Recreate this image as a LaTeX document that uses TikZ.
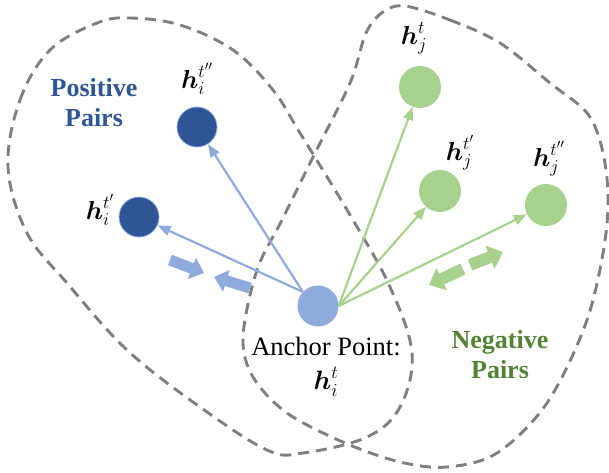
\RequirePackage{fix-cm}
\documentclass[tikz,border=0pt]{standalone}
\usepackage{amsmath,amssymb}
\usepackage{fontspec}
\setmainfont{Liberation Serif}
\usepackage{tikz}
\usepackage{xcolor}
\usetikzlibrary{arrows.meta,positioning,calc}
\definecolor{cP}{HTML}{2F5597}
\definecolor{cB}{HTML}{8FAADC}
\definecolor{cN}{HTML}{A9D18E}
\definecolor{cG}{HTML}{548235}
\definecolor{cL}{HTML}{7F7F7F}
\tikzset{
  anchordot/.style={circle,fill=cB,minimum size=41pt,inner sep=0pt},
  posdot/.style={circle,fill=cP,draw=cB,line width=0.8pt,minimum size=40pt,inner sep=0pt},
  negdot/.style={circle,fill=cN,minimum size=42pt,inner sep=0pt},
  blob/.style={cL,line width=2.9pt,dash pattern=on 11pt off 7pt},
  posarrow/.style={-{Triangle[length=13pt,width=10pt]},line width=2.2pt,cB},
  negarrow/.style={-{Triangle[length=13pt,width=10pt]},line width=2.2pt,cN},
  pullarrow/.style={-{Triangle[length=13pt,width=22pt]},line width=11pt,cB},
  pusharrow/.style={-{Triangle[length=14pt,width=24pt]},line width=12pt,cN},
  vec/.style={font=\fontsize{26}{30}\selectfont,inner sep=0pt},
  pairlbl/.style={font=\fontsize{26}{30}\selectfont\bfseries,align=center,inner sep=0pt},
}

\begin{document}
\begin{tikzpicture}[x=1pt,y=-1pt]
  \useasboundingbox (0,0) rectangle (609,472);
  % the two sets
  \draw[blob] plot[smooth cycle,tension=0.6] coordinates {
    (8,167) (20,100) (50,50) (97,23) (130,18) (180,25) (233,50) (273,90)
    (300,133) (353,220) (390,287) (412,353) (400,407) (367,437) (303,453)
    (267,450) (200,407) (127,350) (67,283) (27,233)};
  \draw[blob] plot[smooth cycle,tension=0.55] coordinates {
    (405,6) (450,20) (500,43) (550,83) (590,117) (606,170) (606,233)
    (587,320) (547,403) (497,453) (447,467) (400,462) (345,443) (287,413)
    (253,377) (243,337) (257,270) (282,220) (313,157) (350,83) (366,33) (383,12)};

  % points
  \node[anchordot] (anc) at (318,306) {};
  \node[posdot] (posA) at (139,217) {};
  \node[posdot] (posB) at (197,127) {};
  \node[negdot] (negA) at (420,87) {};
  \node[negdot] (negB) at (440,191) {};
  \node[negdot] (negC) at (546,205) {};

  \draw[posarrow] (anc.137) -- (posA);
  \draw[posarrow] (anc.137) -- (posB);
  \draw[negarrow] (anc.east) -- (negA);
  \draw[negarrow] (anc.east) -- (negB);
  \draw[negarrow] (anc.east) -- (negC);

  % pull together / push apart
  \coordinate (pullL) at (170,260);
  \coordinate (pullLtip) at (204,273);
  \coordinate (pullR) at (250,288);
  \coordinate (pullRtip) at (214,277);
  \draw[pullarrow] (pullL) -- (pullLtip);
  \draw[pullarrow] (pullR) -- (pullRtip);
  \coordinate (pushL) at (463,269);
  \coordinate (pushLtip) at (429,285);
  \coordinate (pushR) at (470,265);
  \coordinate (pushRtip) at (503,252);
  \draw[pusharrow] (pushL) -- (pushLtip);
  \draw[pusharrow] (pushR) -- (pushRtip);

  % labels
  \node[vec] (posAlbl) at (100,210) {$\boldsymbol{h}_i^{t'}$};
  \node[vec] (posBlbl) at (197,79) {$\boldsymbol{h}_i^{t''}$};
  \node[vec] (negAlbl) at (414,38) {$\boldsymbol{h}_j^{t}$};
  \node[vec] (negBlbl) at (460,153) {$\boldsymbol{h}_j^{t'}$};
  \node[vec] (negClbl) at (549,159) {$\boldsymbol{h}_j^{t''}$};
  \node[pairlbl,cP] (poslbl) at (94,103) {Positive\\Pairs};
  \node[pairlbl,cG] (neglbl) at (500,355) {Negative\\Pairs};
  \node[align=center,inner sep=0pt,font=\fontsize{26.5}{34}\selectfont] (anclbl) at (326,367)
    {Anchor Point:\\ $\boldsymbol{h}_i^{t}$};
\end{tikzpicture}
\end{document}
